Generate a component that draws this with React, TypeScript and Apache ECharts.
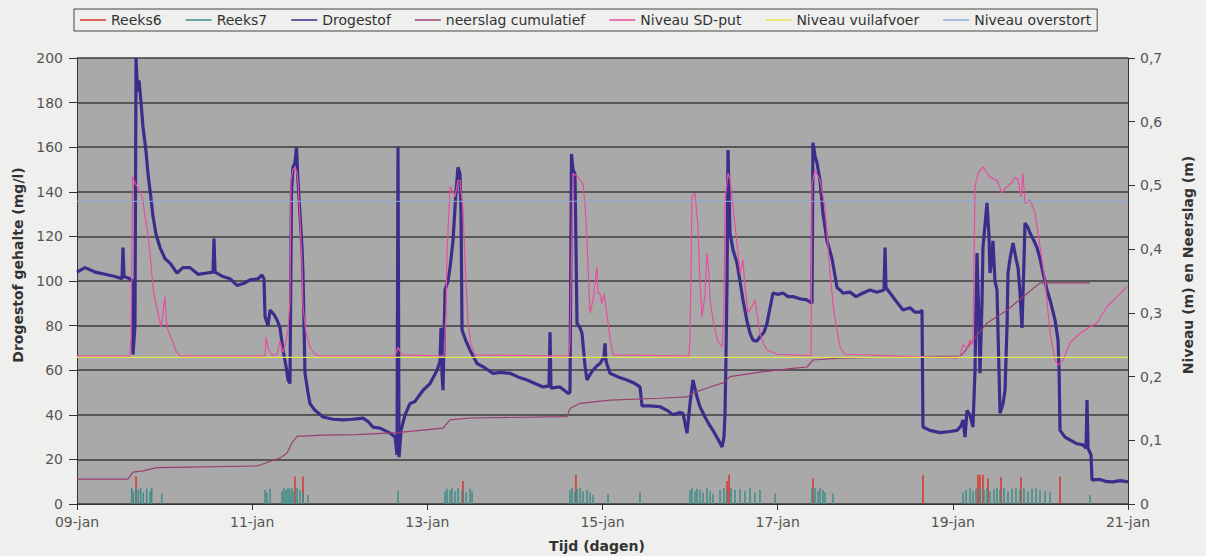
import React, { useEffect, useRef } from "react";
import * as echarts from "echarts";

// x values are days since 09-jan
const xTickLabels = ["09-jan", "11-jan", "13-jan", "15-jan", "17-jan", "19-jan", "21-jan"];
const rightTickLabels = ["0", "0,1", "0,2", "0,3", "0,4", "0,5", "0,6", "0,7"];
const seriesNames = ["Reeks6", "Reeks7", "Drogestof", "neerslag cumulatief", "Niveau SD-put", "Niveau vuilafvoer", "Niveau overstort"];

const reeks6: [number, number][] = [
  [0.674, 0.043], [2.489, 0.043], [2.58, 0.043], [4.407, 0.036], [5.697, 0.046], [7.422, 0.036],
  [7.445, 0.046], [8.403, 0.04], [9.659, 0.045], [10.287, 0.046], [10.31, 0.046], [10.344, 0.046],
  [10.401, 0.04], [10.55, 0.042], [10.778, 0.042], [11.224, 0.043],
];

const reeks7: [number, number][] = [
  [0.625, 0.025], [0.643, 0.02], [0.674, 0.026], [0.7, 0.022], [0.727, 0.025], [0.757, 0.018], [0.796, 0.024],
  [0.834, 0.02], [0.853, 0.025], [0.967, 0.016],
  [2.147, 0.022], [2.169, 0.018], [2.204, 0.024],
  [2.341, 0.02], [2.363, 0.025], [2.386, 0.022], [2.409, 0.026], [2.432, 0.024], [2.455, 0.025], [2.478, 0.02],
  [2.512, 0.025], [2.546, 0.022], [2.58, 0.018], [2.637, 0.014],
  [3.665, 0.02],
  [4.202, 0.02], [4.225, 0.024], [4.259, 0.022], [4.282, 0.025], [4.316, 0.02], [4.35, 0.025], [4.396, 0.022],
  [4.442, 0.018], [4.487, 0.024], [4.51, 0.02],
  [5.629, 0.022], [5.652, 0.025], [5.686, 0.02], [5.709, 0.024], [5.743, 0.025], [5.777, 0.02], [5.823, 0.022],
  [5.857, 0.018], [5.892, 0.014], [6.063, 0.016],
  [6.428, 0.018],
  [6.999, 0.022], [7.022, 0.025], [7.056, 0.02], [7.079, 0.024], [7.113, 0.022], [7.148, 0.018], [7.193, 0.025],
  [7.228, 0.02], [7.262, 0.016],
  [7.342, 0.022], [7.387, 0.025], [7.422, 0.02], [7.467, 0.025], [7.513, 0.022], [7.57, 0.024], [7.627, 0.02],
  [7.684, 0.025], [7.741, 0.018], [7.798, 0.022], [7.97, 0.016],
  [8.392, 0.024], [8.427, 0.025], [8.461, 0.02], [8.484, 0.025], [8.518, 0.022], [8.541, 0.018],
  [8.632, 0.016],
  [10.116, 0.018], [10.151, 0.022], [10.196, 0.025], [10.23, 0.02], [10.265, 0.024], [10.31, 0.025], [10.356, 0.022],
  [10.39, 0.025], [10.424, 0.02], [10.47, 0.024], [10.504, 0.025], [10.539, 0.022], [10.584, 0.025], [10.63, 0.02],
  [10.676, 0.024], [10.721, 0.025], [10.767, 0.022], [10.812, 0.025], [10.858, 0.02], [10.904, 0.024], [10.95, 0.025],
  [10.995, 0.022], [11.052, 0.02], [11.11, 0.018],
  [11.566, 0.014],
];

const drogestof: [number, number][] = [
  [0, 104], [0.091, 106], [0.206, 104], [0.32, 103], [0.434, 102], [0.514, 101], [0.525, 115], [0.537, 102],
  [0.605, 101], [0.634, 100], [0.639, 67], [0.662, 80], [0.674, 200], [0.691, 185], [0.708, 190], [0.731, 180],
  [0.754, 169], [0.788, 158], [0.811, 148], [0.845, 137], [0.868, 129], [0.902, 121], [0.948, 115], [1.005, 110],
  [1.062, 108], [1.142, 103.6], [1.21, 106], [1.29, 106], [1.382, 103], [1.484, 103.6], [1.553, 104], [1.564, 119],
  [1.576, 104], [1.667, 102], [1.747, 101], [1.827, 98], [1.907, 99], [1.975, 100.5], [2.067, 101], [2.112, 102.7],
  [2.135, 101], [2.147, 84], [2.181, 80], [2.204, 87], [2.249, 85], [2.284, 82.5], [2.318, 79], [2.352, 69],
  [2.386, 62], [2.409, 55.6], [2.432, 54], [2.449, 140], [2.466, 151], [2.489, 153], [2.506, 160], [2.523, 145],
  [2.546, 130], [2.569, 115], [2.58, 103.6], [2.603, 58.7], [2.637, 50], [2.66, 45], [2.717, 42], [2.809, 39],
  [2.923, 38], [3.037, 37.7], [3.151, 38], [3.266, 38.5], [3.323, 37], [3.38, 34.5], [3.46, 34], [3.574, 31.8],
  [3.631, 30], [3.654, 22], [3.665, 160], [3.677, 21], [3.7, 33], [3.745, 40], [3.802, 45], [3.859, 46],
  [3.951, 51], [4.031, 54], [4.111, 60], [4.145, 64], [4.156, 79], [4.168, 58], [4.179, 51], [4.202, 96],
  [4.236, 100], [4.259, 106], [4.293, 118], [4.327, 140], [4.35, 151], [4.373, 148], [4.385, 130], [4.396, 78],
  [4.442, 73], [4.487, 69], [4.567, 63], [4.659, 61], [4.75, 58.6], [4.83, 59], [4.944, 58.6], [5.035, 57],
  [5.138, 55.6], [5.229, 54], [5.321, 52.5], [5.389, 53], [5.401, 77], [5.412, 52], [5.515, 52.5], [5.606, 49.7],
  [5.629, 50], [5.646, 157], [5.663, 150], [5.686, 148], [5.709, 81], [5.743, 79], [5.766, 76.6], [5.8, 62],
  [5.823, 55.6], [5.857, 58], [5.892, 60], [5.937, 62], [5.972, 63], [6.017, 66], [6.029, 72], [6.04, 64],
  [6.086, 58.6], [6.177, 57], [6.28, 55.6], [6.371, 54], [6.428, 52.5], [6.451, 44], [6.542, 44], [6.657, 43.6],
  [6.737, 42], [6.805, 40], [6.885, 41], [6.919, 40.7], [6.965, 31.8], [6.999, 45], [7.033, 55.6], [7.079, 48],
  [7.113, 43.6], [7.17, 39], [7.228, 35], [7.262, 33], [7.319, 29], [7.365, 25.6], [7.387, 30], [7.399, 40.7],
  [7.41, 66], [7.422, 100], [7.433, 158.7], [7.456, 121.5], [7.49, 114], [7.536, 108], [7.57, 100], [7.604, 91.5],
  [7.65, 82], [7.684, 76.6], [7.718, 73.5], [7.764, 73], [7.798, 75], [7.844, 77], [7.878, 81], [7.913, 88],
  [7.947, 94.6], [8.004, 94], [8.061, 94.6], [8.118, 93], [8.175, 93], [8.255, 92], [8.335, 91.5], [8.392, 90],
  [8.403, 162], [8.427, 156], [8.449, 153], [8.484, 145], [8.518, 130], [8.564, 118], [8.621, 110], [8.678, 97],
  [8.712, 96], [8.746, 94.6], [8.826, 95], [8.895, 93], [8.975, 94.6], [9.054, 96], [9.134, 95], [9.214, 96],
  [9.226, 115], [9.237, 97], [9.283, 94.6], [9.351, 91], [9.431, 87], [9.511, 88], [9.568, 86], [9.625, 86],
  [9.648, 87], [9.659, 34.5], [9.739, 33], [9.853, 32], [9.968, 32.5], [10.048, 33], [10.093, 35], [10.116, 37.7],
  [10.139, 30], [10.162, 42], [10.196, 40], [10.23, 34.5], [10.253, 60], [10.276, 112.5], [10.299, 80], [10.31, 58.6],
  [10.333, 90], [10.344, 115], [10.367, 125], [10.39, 135], [10.413, 120], [10.424, 103.6], [10.447, 110], [10.458, 118],
  [10.481, 100], [10.504, 96], [10.527, 60], [10.539, 40.7], [10.573, 45], [10.596, 51], [10.619, 80], [10.63, 103.6],
  [10.653, 110], [10.687, 117], [10.721, 110], [10.744, 106], [10.767, 95], [10.79, 79], [10.813, 110], [10.824, 126],
  [10.858, 124], [10.881, 121.5], [10.927, 118], [10.961, 115], [10.995, 110], [11.03, 103.6], [11.075, 96], [11.11, 91.5],
  [11.167, 82.5], [11.201, 73.5], [11.213, 60], [11.224, 33], [11.281, 30], [11.338, 28.7], [11.418, 27], [11.487, 26.5],
  [11.521, 25], [11.532, 46.6], [11.544, 25], [11.555, 24], [11.578, 22], [11.589, 10.8], [11.681, 11], [11.761, 10],
  [11.829, 9.9], [11.909, 10.5], [12, 9.9],
];

const neerslagCumulatief: [number, number][] = [
  [0, 0.039], [0.582, 0.039], [0.639, 0.05], [0.754, 0.052], [0.914, 0.057], [1.29, 0.058], [2.055, 0.0597],
  [2.147, 0.064], [2.226, 0.068], [2.318, 0.072], [2.398, 0.08], [2.455, 0.096], [2.512, 0.106], [2.809, 0.108],
  [3.197, 0.109], [3.654, 0.112], [3.951, 0.116], [4.179, 0.119], [4.259, 0.132], [4.487, 0.135], [5.595, 0.137],
  [5.629, 0.15], [5.743, 0.158], [6.086, 0.163], [6.657, 0.166], [6.965, 0.168], [7.033, 0.174], [7.193, 0.182],
  [7.376, 0.19], [7.456, 0.2], [7.798, 0.207], [8.175, 0.213], [8.335, 0.215], [8.403, 0.226], [8.712, 0.229],
  [9.397, 0.231], [10.082, 0.232], [10.116, 0.236], [10.23, 0.257], [10.39, 0.284], [10.619, 0.304], [10.801, 0.325],
  [10.995, 0.347], [11.566, 0.347],
];

const niveauSDput: [number, number][] = [
  [0, 0.232], [0.6, 0.232], [0.617, 0.26], [0.636, 0.514], [0.662, 0.504], [0.72, 0.49], [0.754, 0.477], [0.776, 0.45],
  [0.799, 0.435], [0.834, 0.394], [0.868, 0.34], [0.891, 0.32], [0.925, 0.3], [0.959, 0.278], [0.982, 0.3], [0.993, 0.315],
  [1.005, 0.325], [1.016, 0.295], [1.028, 0.278], [1.062, 0.265], [1.096, 0.253], [1.13, 0.24], [1.176, 0.232],
  [2.147, 0.232], [2.158, 0.262], [2.181, 0.245], [2.226, 0.233], [2.284, 0.235], [2.318, 0.256], [2.352, 0.238],
  [2.386, 0.255], [2.409, 0.273], [2.432, 0.32], [2.443, 0.508], [2.466, 0.525], [2.489, 0.529], [2.512, 0.52],
  [2.523, 0.505], [2.546, 0.446], [2.569, 0.38], [2.58, 0.31], [2.614, 0.27], [2.66, 0.246], [2.717, 0.235],
  [2.774, 0.232], [3.631, 0.232], [3.665, 0.246], [3.711, 0.234], [4.19, 0.232], [4.213, 0.3], [4.225, 0.394],
  [4.259, 0.498], [4.293, 0.49], [4.316, 0.482], [4.339, 0.5], [4.35, 0.508], [4.373, 0.508], [4.385, 0.49],
  [4.407, 0.466], [4.43, 0.38], [4.465, 0.284], [4.499, 0.25], [4.545, 0.234], [5.617, 0.232], [5.629, 0.257],
  [5.663, 0.519], [5.72, 0.513], [5.777, 0.503], [5.8, 0.47], [5.823, 0.414], [5.857, 0.3], [5.892, 0.32],
  [5.937, 0.372], [5.949, 0.331], [5.972, 0.33], [5.994, 0.315], [6.017, 0.33], [6.029, 0.32], [6.063, 0.284],
  [6.086, 0.26], [6.12, 0.234], [6.988, 0.232], [6.999, 0.26], [7.022, 0.482], [7.056, 0.488], [7.09, 0.435],
  [7.113, 0.35], [7.136, 0.293], [7.17, 0.33], [7.193, 0.394], [7.216, 0.36], [7.228, 0.32], [7.262, 0.29],
  [7.285, 0.273], [7.319, 0.255], [7.365, 0.246], [7.387, 0.3], [7.399, 0.477], [7.433, 0.519], [7.456, 0.51],
  [7.49, 0.466], [7.536, 0.41], [7.57, 0.362], [7.604, 0.383], [7.627, 0.34], [7.661, 0.3], [7.707, 0.31],
  [7.741, 0.32], [7.775, 0.29], [7.798, 0.268], [7.844, 0.25], [7.878, 0.242], [7.992, 0.235], [8.381, 0.233],
  [8.392, 0.503], [8.427, 0.524], [8.484, 0.508], [8.541, 0.466], [8.598, 0.362], [8.644, 0.3], [8.678, 0.273],
  [8.712, 0.246], [8.769, 0.235], [9.397, 0.232], [10.048, 0.229], [10.082, 0.232], [10.116, 0.25], [10.162, 0.245],
  [10.196, 0.257], [10.23, 0.25], [10.253, 0.498], [10.287, 0.519], [10.344, 0.529], [10.39, 0.52], [10.424, 0.513],
  [10.504, 0.508], [10.561, 0.488], [10.596, 0.495], [10.619, 0.498], [10.676, 0.505], [10.71, 0.513], [10.744, 0.51],
  [10.778, 0.482], [10.801, 0.519], [10.824, 0.472], [10.881, 0.477], [10.938, 0.457], [10.995, 0.404], [11.052, 0.352],
  [11.11, 0.268], [11.167, 0.226], [11.201, 0.218], [11.258, 0.226], [11.338, 0.253], [11.452, 0.268], [11.566, 0.278],
  [11.646, 0.284], [11.761, 0.31], [11.875, 0.325], [11.989, 0.341],
];

const niveauVuilafvoer: [number, number][] = [[0, 0.23], [12, 0.23]];
const niveauOverstort: [number, number][] = [[0, 0.475], [12, 0.475]];

const colors = {
  reeks6: "#d8352b",
  reeks7: "#3f8c87",
  drogestof: "#3b2d8c",
  neerslag: "#9a3f72",
  sdput: "#e64f9f",
  vuilafvoer: "#e4e64e",
  overstort: "#8cabd8",
};

const FONT = "DejaVu Sans";

export default function App() {
  const ref = useRef<HTMLDivElement>(null);

  useEffect(() => {
    document.body.style.margin = "0";
    const chart = echarts.init(ref.current!, undefined, { renderer: "svg" });
    const lineBase = { type: "line" as const, showSymbol: false, symbol: "none", animation: false };
    chart.setOption({
      animation: false,
      backgroundColor: "#efefed",
      textStyle: { fontFamily: FONT },
      grid: { left: 77, right: 78, top: 58, bottom: 52, show: true, backgroundColor: "#a9a9a9", borderWidth: 0 },
      legend: {
        data: seriesNames,
        icon: "rect",
        left: 74,
        top: 9,
        padding: [4, 6],
        itemGap: 24,
        itemWidth: 26,
        itemHeight: 1.5,
        borderColor: "#444",
        borderWidth: 1,
        textStyle: { fontSize: 14, color: "#333", fontFamily: FONT },
      },
      xAxis: {
        type: "value",
        min: 0,
        max: 12,
        interval: 2,
        axisLine: { show: true, lineStyle: { color: "#333", width: 1 } },
        axisTick: { show: true, length: 6, lineStyle: { color: "#333" } },
        splitLine: { show: false },
        axisLabel: {
          color: "#555",
          fontSize: 14,
          margin: 11,
          fontFamily: FONT,
          formatter: (v: number) => xTickLabels[Math.round(v / 2)] ?? "",
        },
      },
      yAxis: [
        {
          type: "value",
          min: 0,
          max: 200,
          interval: 20,
          axisLine: { show: true, lineStyle: { color: "#333", width: 1 } },
          axisTick: { show: true, length: 8, lineStyle: { color: "#333" } },
          splitLine: { show: true, lineStyle: { color: "#3d3d3d", width: 1.6 } },
          axisLabel: { color: "#555", fontSize: 14, margin: 14, fontFamily: FONT },
        },
        {
          type: "value",
          min: 0,
          max: 0.7,
          interval: 0.1,
          position: "right",
          axisLine: { show: true, lineStyle: { color: "#333", width: 1 } },
          axisTick: { show: true, length: 7, lineStyle: { color: "#333" } },
          splitLine: { show: false },
          axisLabel: {
            color: "#555",
            fontSize: 14,
            margin: 12,
            fontFamily: FONT,
            formatter: (v: number) => rightTickLabels[Math.round(v * 10)] ?? "",
          },
        },
      ],
      graphic: [
        {
          type: "text",
          x: 18,
          y: 265,
          rotation: Math.PI / 2,
          style: {
            text: "Drogestof gehalte (mg/l)",
            font: `bold 14px "${FONT}"`,
            fill: "#333",
            textAlign: "center",
            textVerticalAlign: "middle",
          },
        },
        {
          type: "text",
          x: 1188,
          y: 265,
          rotation: Math.PI / 2,
          style: {
            text: "Niveau (m) en Neerslag (m)",
            font: `bold 14px "${FONT}"`,
            fill: "#333",
            textAlign: "center",
            textVerticalAlign: "middle",
          },
        },
        {
          type: "text",
          x: 597,
          y: 546,
          style: {
            text: "Tijd (dagen)",
            font: `bold 14px "${FONT}"`,
            fill: "#333",
            textAlign: "center",
            textVerticalAlign: "middle",
          },
        },
      ],
      series: [
        { name: "Reeks6", type: "bar", yAxisIndex: 1, data: reeks6, barWidth: 1.5, barGap: "-100%", color: colors.reeks6, itemStyle: { color: colors.reeks6 } },
        { name: "Reeks7", type: "bar", yAxisIndex: 1, data: reeks7, barWidth: 1.5, barGap: "-100%", color: colors.reeks7, itemStyle: { color: colors.reeks7 } },
        { ...lineBase, name: "Drogestof", yAxisIndex: 0, data: drogestof, color: colors.drogestof, lineStyle: { color: colors.drogestof, width: 3.2 } },
        { ...lineBase, name: "neerslag cumulatief", yAxisIndex: 1, data: neerslagCumulatief, color: colors.neerslag, lineStyle: { color: colors.neerslag, width: 1.2 } },
        { ...lineBase, name: "Niveau SD-put", yAxisIndex: 1, data: niveauSDput, color: colors.sdput, lineStyle: { color: colors.sdput, width: 1.2 } },
        { ...lineBase, name: "Niveau vuilafvoer", yAxisIndex: 1, data: niveauVuilafvoer, color: colors.vuilafvoer, lineStyle: { color: colors.vuilafvoer, width: 1.3 } },
        { ...lineBase, name: "Niveau overstort", yAxisIndex: 1, data: niveauOverstort, color: colors.overstort, lineStyle: { color: colors.overstort, width: 1 } },
      ],
    });
    return () => chart.dispose();
  }, []);

  return <div ref={ref} style={{ width: 1206, height: 556 }} />;
}
